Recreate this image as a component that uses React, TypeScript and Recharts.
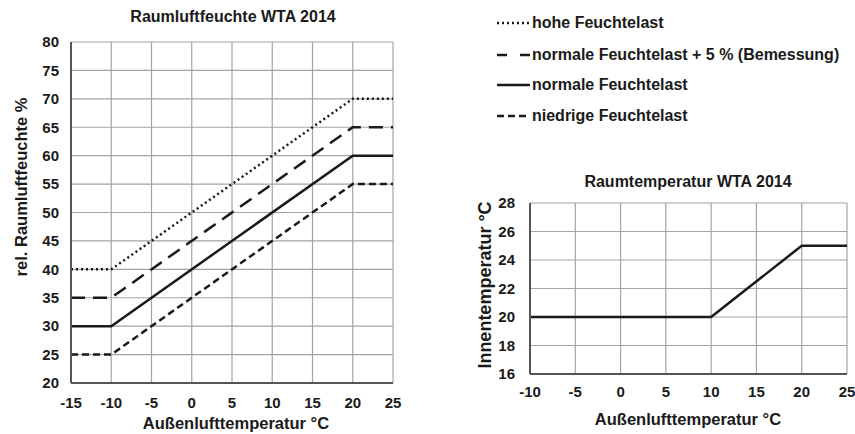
import { LineChart, Line, XAxis, YAxis, CartesianGrid } from 'recharts';

// Raumluftfeuchte nach WTA 2014 (Außenluft -> rel. Feuchte innen)
const outdoorTemp = [-15, -10, 20, 25];
const hoheFeuchte = [40, 40, 70, 70];
const bemessungFeuchte = [35, 35, 65, 65];
const normaleFeuchte = [30, 30, 60, 60];
const niedrigeFeuchte = [25, 25, 55, 55];

// Raumtemperatur nach WTA 2014
const roomOutdoorTemp = [-10, 10, 20, 25];
const roomIndoorTemp = [20, 20, 25, 25];

const humidityXTicks = [-15, -10, -5, 0, 5, 10, 15, 20, 25];
const humidityYTicks = [20, 25, 30, 35, 40, 45, 50, 55, 60, 65, 70, 75, 80];
const roomXTicks = [-10, -5, 0, 5, 10, 15, 20, 25];
const roomYTicks = [16, 18, 20, 22, 24, 26, 28];

// small unlabeled ticks along the axes
const steps = (from: number, to: number, step: number) =>
  Array.from({ length: Math.round((to - from) / step) + 1 }, (_, i) => from + i * step);
const humidityMinorX = steps(-15, 25, 1);
const humidityMinorY = steps(20, 80, 1);
const roomMinorX = steps(-10, 25, 1);
const roomMinorY = steps(16, 28, 0.5);

const humidityData = outdoorTemp.map((t, i) => ({
  t,
  hohe: hoheFeuchte[i],
  bemessung: bemessungFeuchte[i],
  normal: normaleFeuchte[i],
  niedrig: niedrigeFeuchte[i],
}));

const roomData = roomOutdoorTemp.map((t, i) => ({ t, innen: roomIndoorTemp[i] }));

const series = [
  { key: 'hohe', name: 'hohe Feuchtelast', dash: '2 3', sample: '2 3' },
  { key: 'bemessung', name: 'normale Feuchtelast + 5 % (Bemessung)', dash: '14 8', sample: '10 13' },
  { key: 'normal', name: 'normale Feuchtelast', dash: undefined, sample: undefined },
  { key: 'niedrig', name: 'niedrige Feuchtelast', dash: '7 4', sample: '7 4' },
];

const FONT = '"Liberation Sans", Arial, sans-serif';
const INK = '#1a1a1a';
const GRID = '#a3a3a3';
const AXIS = '#555';
const MINOR = '#888';
const tickStyle = { fontSize: 15, fontWeight: 700, fill: INK, fontFamily: FONT };

function Caption({ x, y, size = 16, rotate = false, children }: any) {
  return (
    <div
      style={{
        position: 'absolute',
        left: x,
        top: y,
        transform: `translate(-50%, -50%)${rotate ? ' rotate(-90deg)' : ''}`,
        fontSize: size,
        fontWeight: 700,
        color: INK,
        whiteSpace: 'nowrap',
        lineHeight: 1,
      }}
    >
      {children}
    </div>
  );
}

function SeriesLegend() {
  const rows = [23, 55, 85, 116];
  return (
    <>
      {series.map((s, i) => (
        <div
          key={s.key}
          style={{ position: 'absolute', left: 497, top: rows[i] - 10, height: 20, display: 'flex', alignItems: 'center' }}
        >
          <svg width={34} height={10}>
            <line x1={0} y1={5} x2={33} y2={5} stroke={INK} strokeWidth={2.5} strokeDasharray={s.sample} />
          </svg>
          <span style={{ fontSize: 16, fontWeight: 700, color: INK, marginLeft: 1 }}>{s.name}</span>
        </div>
      ))}
    </>
  );
}

export default function App() {
  return (
    <div
      style={{
        position: 'absolute',
        left: 0,
        top: 0,
        width: 855,
        height: 434,
        background: '#fff',
        fontFamily: FONT,
        overflow: 'hidden',
      }}
    >
      <Caption x={233} y={17}>Raumluftfeuchte WTA 2014</Caption>
      <div style={{ position: 'absolute', left: 0, top: 0 }}>
        <LineChart width={430} height={434} data={humidityData} margin={{ top: 42, right: 37, bottom: 0, left: 0 }}>
          <CartesianGrid stroke={GRID} strokeWidth={1.2} />
          <XAxis
            xAxisId="minor"
            dataKey="t"
            type="number"
            domain={[-15, 25]}
            ticks={humidityMinorX}
            height={0}
            tick={false}
            tickSize={-3}
            tickLine={{ stroke: MINOR }}
            axisLine={false}
          />
          <XAxis
            dataKey="t"
            type="number"
            domain={[-15, 25]}
            ticks={humidityXTicks}
            height={51}
            tickLine={false}
            tickMargin={8}
            axisLine={{ stroke: AXIS, strokeWidth: 2 }}
            tick={tickStyle}
          />
          <YAxis
            yAxisId="minor"
            type="number"
            domain={[20, 80]}
            ticks={humidityMinorY}
            width={0}
            tick={false}
            tickSize={-3}
            tickLine={{ stroke: MINOR }}
            axisLine={false}
          />
          <YAxis
            type="number"
            domain={[20, 80]}
            ticks={humidityYTicks}
            width={71}
            tickLine={false}
            tickMargin={6}
            axisLine={{ stroke: AXIS, strokeWidth: 2 }}
            tick={tickStyle}
          />
          {series.map((s) => (
            <Line
              key={s.key}
              type="linear"
              dataKey={s.key}
              name={s.name}
              stroke={INK}
              strokeWidth={2.5}
              strokeDasharray={s.dash}
              dot={false}
              isAnimationActive={false}
            />
          ))}
        </LineChart>
      </div>
      <Caption x={21} y={187} size={16.5} rotate>rel. Raumluftfeuchte %</Caption>
      <Caption x={236} y={423} size={16.5}>Außenlufttemperatur °C</Caption>

      <SeriesLegend />

      <Caption x={688} y={182}>Raumtemperatur WTA 2014</Caption>
      <div style={{ position: 'absolute', left: 430, top: 0 }}>
        <LineChart width={425} height={434} data={roomData} margin={{ top: 203, right: 8, bottom: 0, left: 0 }}>
          <CartesianGrid stroke={GRID} strokeWidth={1.2} />
          <XAxis
            xAxisId="minor"
            dataKey="t"
            type="number"
            domain={[-10, 25]}
            ticks={roomMinorX}
            height={0}
            tick={false}
            tickSize={-3}
            tickLine={{ stroke: MINOR }}
            axisLine={false}
          />
          <XAxis
            dataKey="t"
            type="number"
            domain={[-10, 25]}
            ticks={roomXTicks}
            height={60}
            tickLine={false}
            tickMargin={6}
            axisLine={{ stroke: AXIS, strokeWidth: 2 }}
            tick={tickStyle}
          />
          <YAxis
            yAxisId="minor"
            type="number"
            domain={[16, 28]}
            ticks={roomMinorY}
            width={0}
            tick={false}
            tickSize={-3}
            tickLine={{ stroke: MINOR }}
            axisLine={false}
          />
          <YAxis
            type="number"
            domain={[16, 28]}
            ticks={roomYTicks}
            width={100}
            tickLine={false}
            tickMargin={9}
            axisLine={{ stroke: AXIS, strokeWidth: 2 }}
            tick={tickStyle}
          />
          <Line
            type="linear"
            dataKey="innen"
            stroke={INK}
            strokeWidth={2.5}
            dot={false}
            isAnimationActive={false}
          />
        </LineChart>
      </div>
      <Caption x={485} y={285} size={18} rotate>Innentemperatur °C</Caption>
      <Caption x={688} y={419} size={16.5}>Außenlufttemperatur °C</Caption>
    </div>
  );
}
